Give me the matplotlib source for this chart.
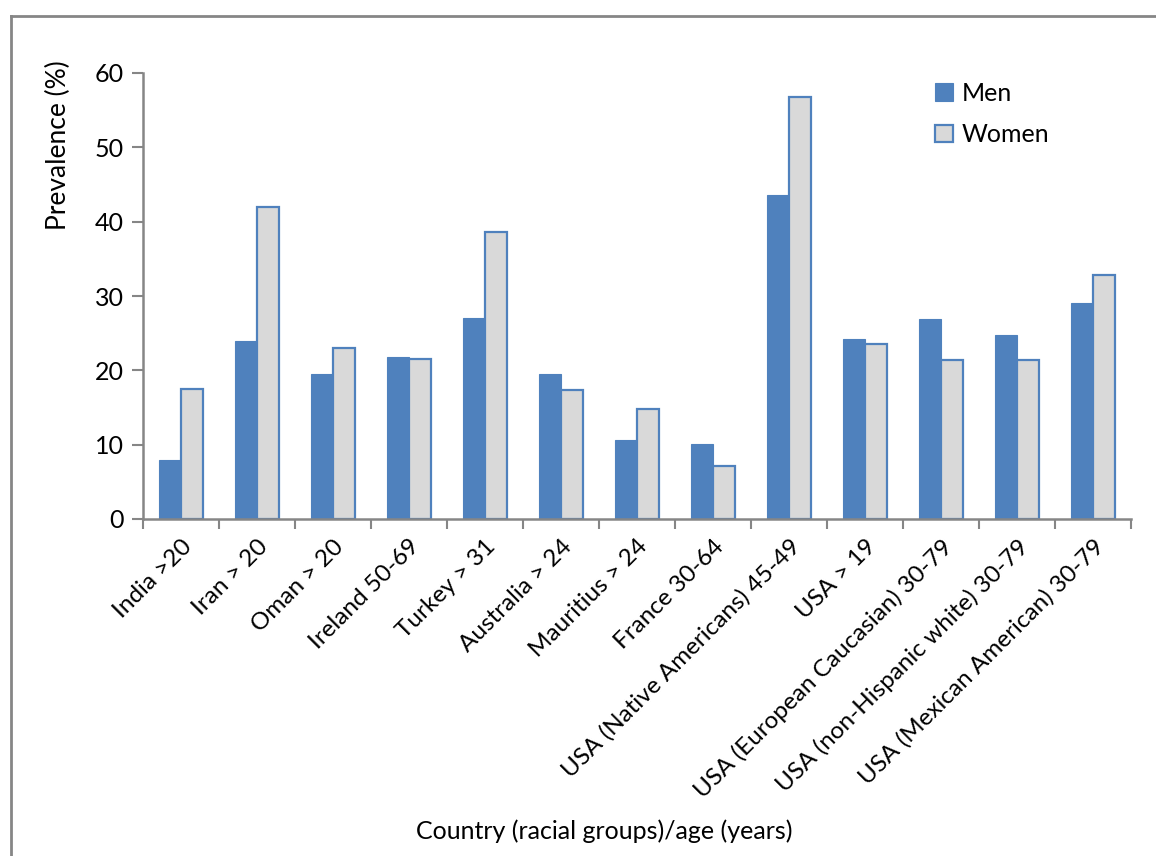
import matplotlib
matplotlib.use("Agg")
import matplotlib.pyplot as plt
import numpy as np
from matplotlib.lines import Line2D

plt.rcParams['font.family'] = ['Lato', 'DejaVu Sans']

categories = [
    "India >20", "Iran > 20", "Oman > 20", "Ireland 50-69", "Turkey > 31",
    "Australia > 24", "Mauritius > 24", "France 30-64",
    "USA (Native Americans) 45-49", "USA > 19",
    "USA (European Caucasian) 30-79", "USA (non-Hispanic white) 30-79",
    "USA (Mexican American) 30-79",
]
men = [7.9, 24.0, 19.5, 21.8, 27.0, 19.5, 10.6, 10.1, 43.6, 24.2, 26.9, 24.7, 29.1]
women = [17.5, 42.0, 23.0, 21.5, 38.6, 17.3, 14.8, 7.1, 56.8, 23.6, 21.4, 21.4, 32.8]
yticks = [0, 10, 20, 30, 40, 50, 60]

W, H = 1156, 856
fig = plt.figure(figsize=(W / 100, H / 100), dpi=100)
ax = fig.add_axes([143 / W, 1 - 519 / H, (1131 - 143) / W, (519 - 73) / H])

x = np.arange(len(categories))
bw = 0.286
blue = "#4F81BD"
gray_axis = "#868686"

ax.bar(x - bw / 2, men, width=bw, color=blue, edgecolor=blue, linewidth=0.8,
       label="Men")
ax.bar(x + bw / 2, women, width=bw, color="#D9D9D9", edgecolor=blue,
       linewidth=1.6, label="Women")

ax.set_xlim(-0.5, len(categories) - 0.5)
ax.set_ylim(0, 60)
ax.set_yticks(yticks)
ax.set_yticklabels([str(v) for v in yticks], fontsize=18)

# category boundaries carry the tick marks; labels sit at the centres
ax.set_xticks(np.arange(-0.5, len(categories), 1.0))
ax.set_xticklabels([])
ax.set_xticks(x, minor=True)
ax.set_xticklabels(categories, minor=True, rotation=45, ha="right",
                   rotation_mode="anchor", fontsize=17.5)
ax.tick_params(axis="x", which="minor", length=0, pad=12)
ax.tick_params(axis="x", which="major", length=7, width=1.5, color=gray_axis,
               direction="out")
ax.tick_params(axis="y", length=8, width=1.5, color=gray_axis, pad=6)

for side in ("top", "right"):
    ax.spines[side].set_visible(False)
for side in ("left", "bottom"):
    ax.spines[side].set_color(gray_axis)
    ax.spines[side].set_linewidth(1.8)

fig.text(58 / W, 1 - 145 / H, "Prevalence (%)", fontsize=19, rotation=90,
         ha="center", va="center")
fig.text(604 / W, 1 - 831 / H, "Country (racial groups)/age (years)",
         fontsize=18, ha="center", va="center")

leg = ax.legend(loc="upper left", bbox_to_anchor=(0.784, 1.02), frameon=False,
                fontsize=18, handlelength=0.7, handleheight=0.7,
                handletextpad=0.35, labelspacing=0.75, borderaxespad=0.3)

# chart-area border
fig.add_artist(Line2D([11 / W, 11 / W], [0, 1 - 16 / H], transform=fig.transFigure,
                      color=gray_axis, linewidth=2))
fig.add_artist(Line2D([11 / W, 1], [1 - 16 / H, 1 - 16 / H],
                      transform=fig.transFigure, color=gray_axis, linewidth=2))

fig.savefig("out.png", dpi=100)
